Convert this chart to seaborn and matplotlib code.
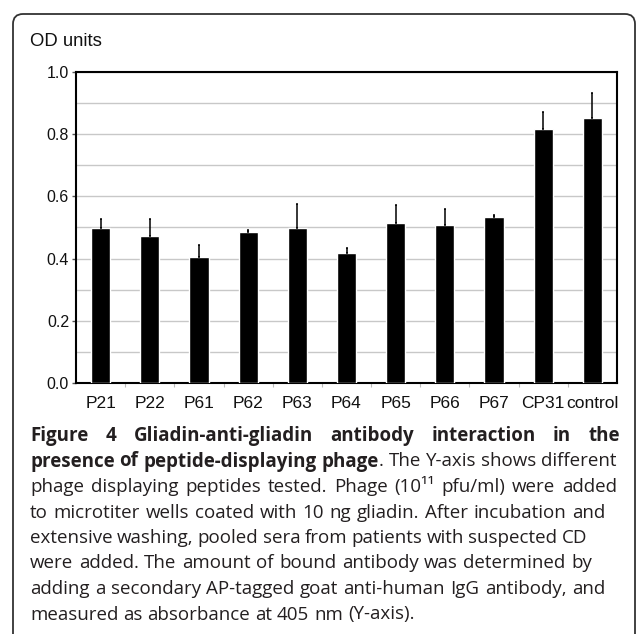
import numpy as np
import pandas as pd
import matplotlib
matplotlib.use("Agg")
import matplotlib.pyplot as plt
from matplotlib.patches import FancyBboxPatch
from matplotlib.ticker import MultipleLocator, FixedLocator
import seaborn as sns

# values
phages = ["P21", "P22", "P61", "P62", "P63", "P64", "P65", "P66", "P67", "CP31", "control"]
od_mean = [0.499, 0.474, 0.406, 0.487, 0.497, 0.417, 0.515, 0.507, 0.533, 0.818, 0.852]
od_err = [0.028, 0.053, 0.038, 0.004, 0.080, 0.016, 0.057, 0.053, 0.008, 0.054, 0.081]

# caption, one entry per printed line; "**" starts bold, "|" ends it inside a word
caption_lines = [
    "**Figure 4 Gliadin-anti-gliadin antibody interaction in the",
    "**presence of peptide-displaying phage|. The Y-axis shows different",
    "phage displaying peptides tested. Phage (10\u00b9\u00b9 pfu/ml) were added",
    "to microtiter wells coated with 10 ng gliadin. After incubation and",
    "extensive washing, pooled sera from patients with suspected CD",
    "were added. The amount of bound antibody was determined by",
    "adding a secondary AP-tagged goat anti-human IgG antibody, and",
    "measured as absorbance at 405 nm (Y-axis).",
]
line_right = [620, 617, 617, 605, 587, 592, 605, None]

df = pd.DataFrame({"phage": phages, "od": od_mean, "err": od_err})

sns.set_theme(style="white")
plt.rcParams["font.family"] = ["Liberation Sans", "DejaVu Sans"]

W, H = 638, 634
fig = plt.figure(figsize=(W / 100, H / 100), dpi=100)
ax = fig.add_axes([76 / W, 1 - 383 / H, (617 - 76) / W, (383 - 72) / H])

sns.barplot(data=df, x="phage", y="od", color="black", saturation=1,
            width=0.39, errorbar=None, ax=ax, zorder=3)
ax.errorbar(np.arange(len(df)), df["od"], yerr=[np.zeros(len(df)), df["err"]],
            fmt="none", ecolor="black", elinewidth=1.1, capsize=1.0, capthick=1.1,
            zorder=4)

ax.set_xlim(-0.5, len(df) - 0.5)
ax.set_ylim(0, 1.0)
ax.yaxis.set_major_locator(MultipleLocator(0.2))
ax.yaxis.set_minor_locator(MultipleLocator(0.1))
ax.set_yticklabels([f"{v:.1f}" for v in ax.get_yticks()])
ax.grid(axis="y", which="both", color="#c8c8c8", lw=1.0, zorder=0)
ax.xaxis.set_minor_locator(FixedLocator(np.arange(0.5, len(df) - 1, 1.0)))
ax.tick_params(axis="y", which="major", left=True, length=3, width=1, color="#555555",
               labelsize=11.5, pad=2, labelcolor="#111111")
ax.tick_params(axis="y", which="minor", left=False)
ax.tick_params(axis="x", which="major", bottom=False, labelsize=12.5, pad=3,
               labelcolor="#111111")
ax.tick_params(axis="x", which="minor", bottom=True, length=3, width=0.8, color="#bbbbbb")
ax.set_xlabel("")
ax.set_ylabel("")
for s in ax.spines.values():
    s.set_visible(True)
    s.set_color("black")
    s.set_linewidth(1.5)

fig.text(30 / W, 1 - 41 / H, "OD units", fontsize=13.3, va="center", ha="left",
         color="#111111")

# outer rounded frame, open at the bottom
frame = FancyBboxPatch((13 / 100, -0.3), (635 - 13) / 100, (H - 14) / 100 + 0.3,
                       boxstyle="round,pad=0,rounding_size=0.1",
                       transform=fig.dpi_scale_trans, fill=False,
                       ec="#333333", lw=1.3)
fig.patches.append(frame)

# justified caption, word by word
renderer = fig.canvas.get_renderer()
cap_font = dict(family=["Open Sans", "DejaVu Sans"], fontsize=13.5, color="#231f20")


def measure(txt, bold):
    t = fig.text(0, 0, txt, fontweight="bold" if bold else "normal", **cap_font)
    w = t.get_window_extent(renderer).width
    t.remove()
    return w


x_left = 30
baseline0 = 441
line_gap = 25.5
bold = False
for i, line in enumerate(caption_lines):
    words = []
    for raw in line.split(" "):
        pieces = []
        for j, part in enumerate(raw.split("|")):
            if part.startswith("**"):
                bold = True
                part = part[2:]
            elif j > 0:
                bold = False
            if part:
                pieces.append((part, bold))
        words.append(pieces)
    widths = [[measure(p, b) for p, b in w] for w in words]
    total = sum(sum(w) for w in widths)
    b0 = words[0][0][1]
    natural_space = measure("a a", b0) - measure("aa", b0)
    space = natural_space
    if line_right[i] is not None and len(words) > 1:
        space = max((line_right[i] - x_left - total) / (len(words) - 1), natural_space * 0.8)
    x = x_left
    y = 1 - (baseline0 + i * line_gap) / H
    for pieces, ws in zip(words, widths):
        for (p, b), w in zip(pieces, ws):
            fig.text(x / W, y, p, fontweight="bold" if b else "normal",
                     va="baseline", ha="left", **cap_font)
            x += w
        x += space
    if i == 1:
        bold = False

fig.savefig("out.png", dpi=100)
